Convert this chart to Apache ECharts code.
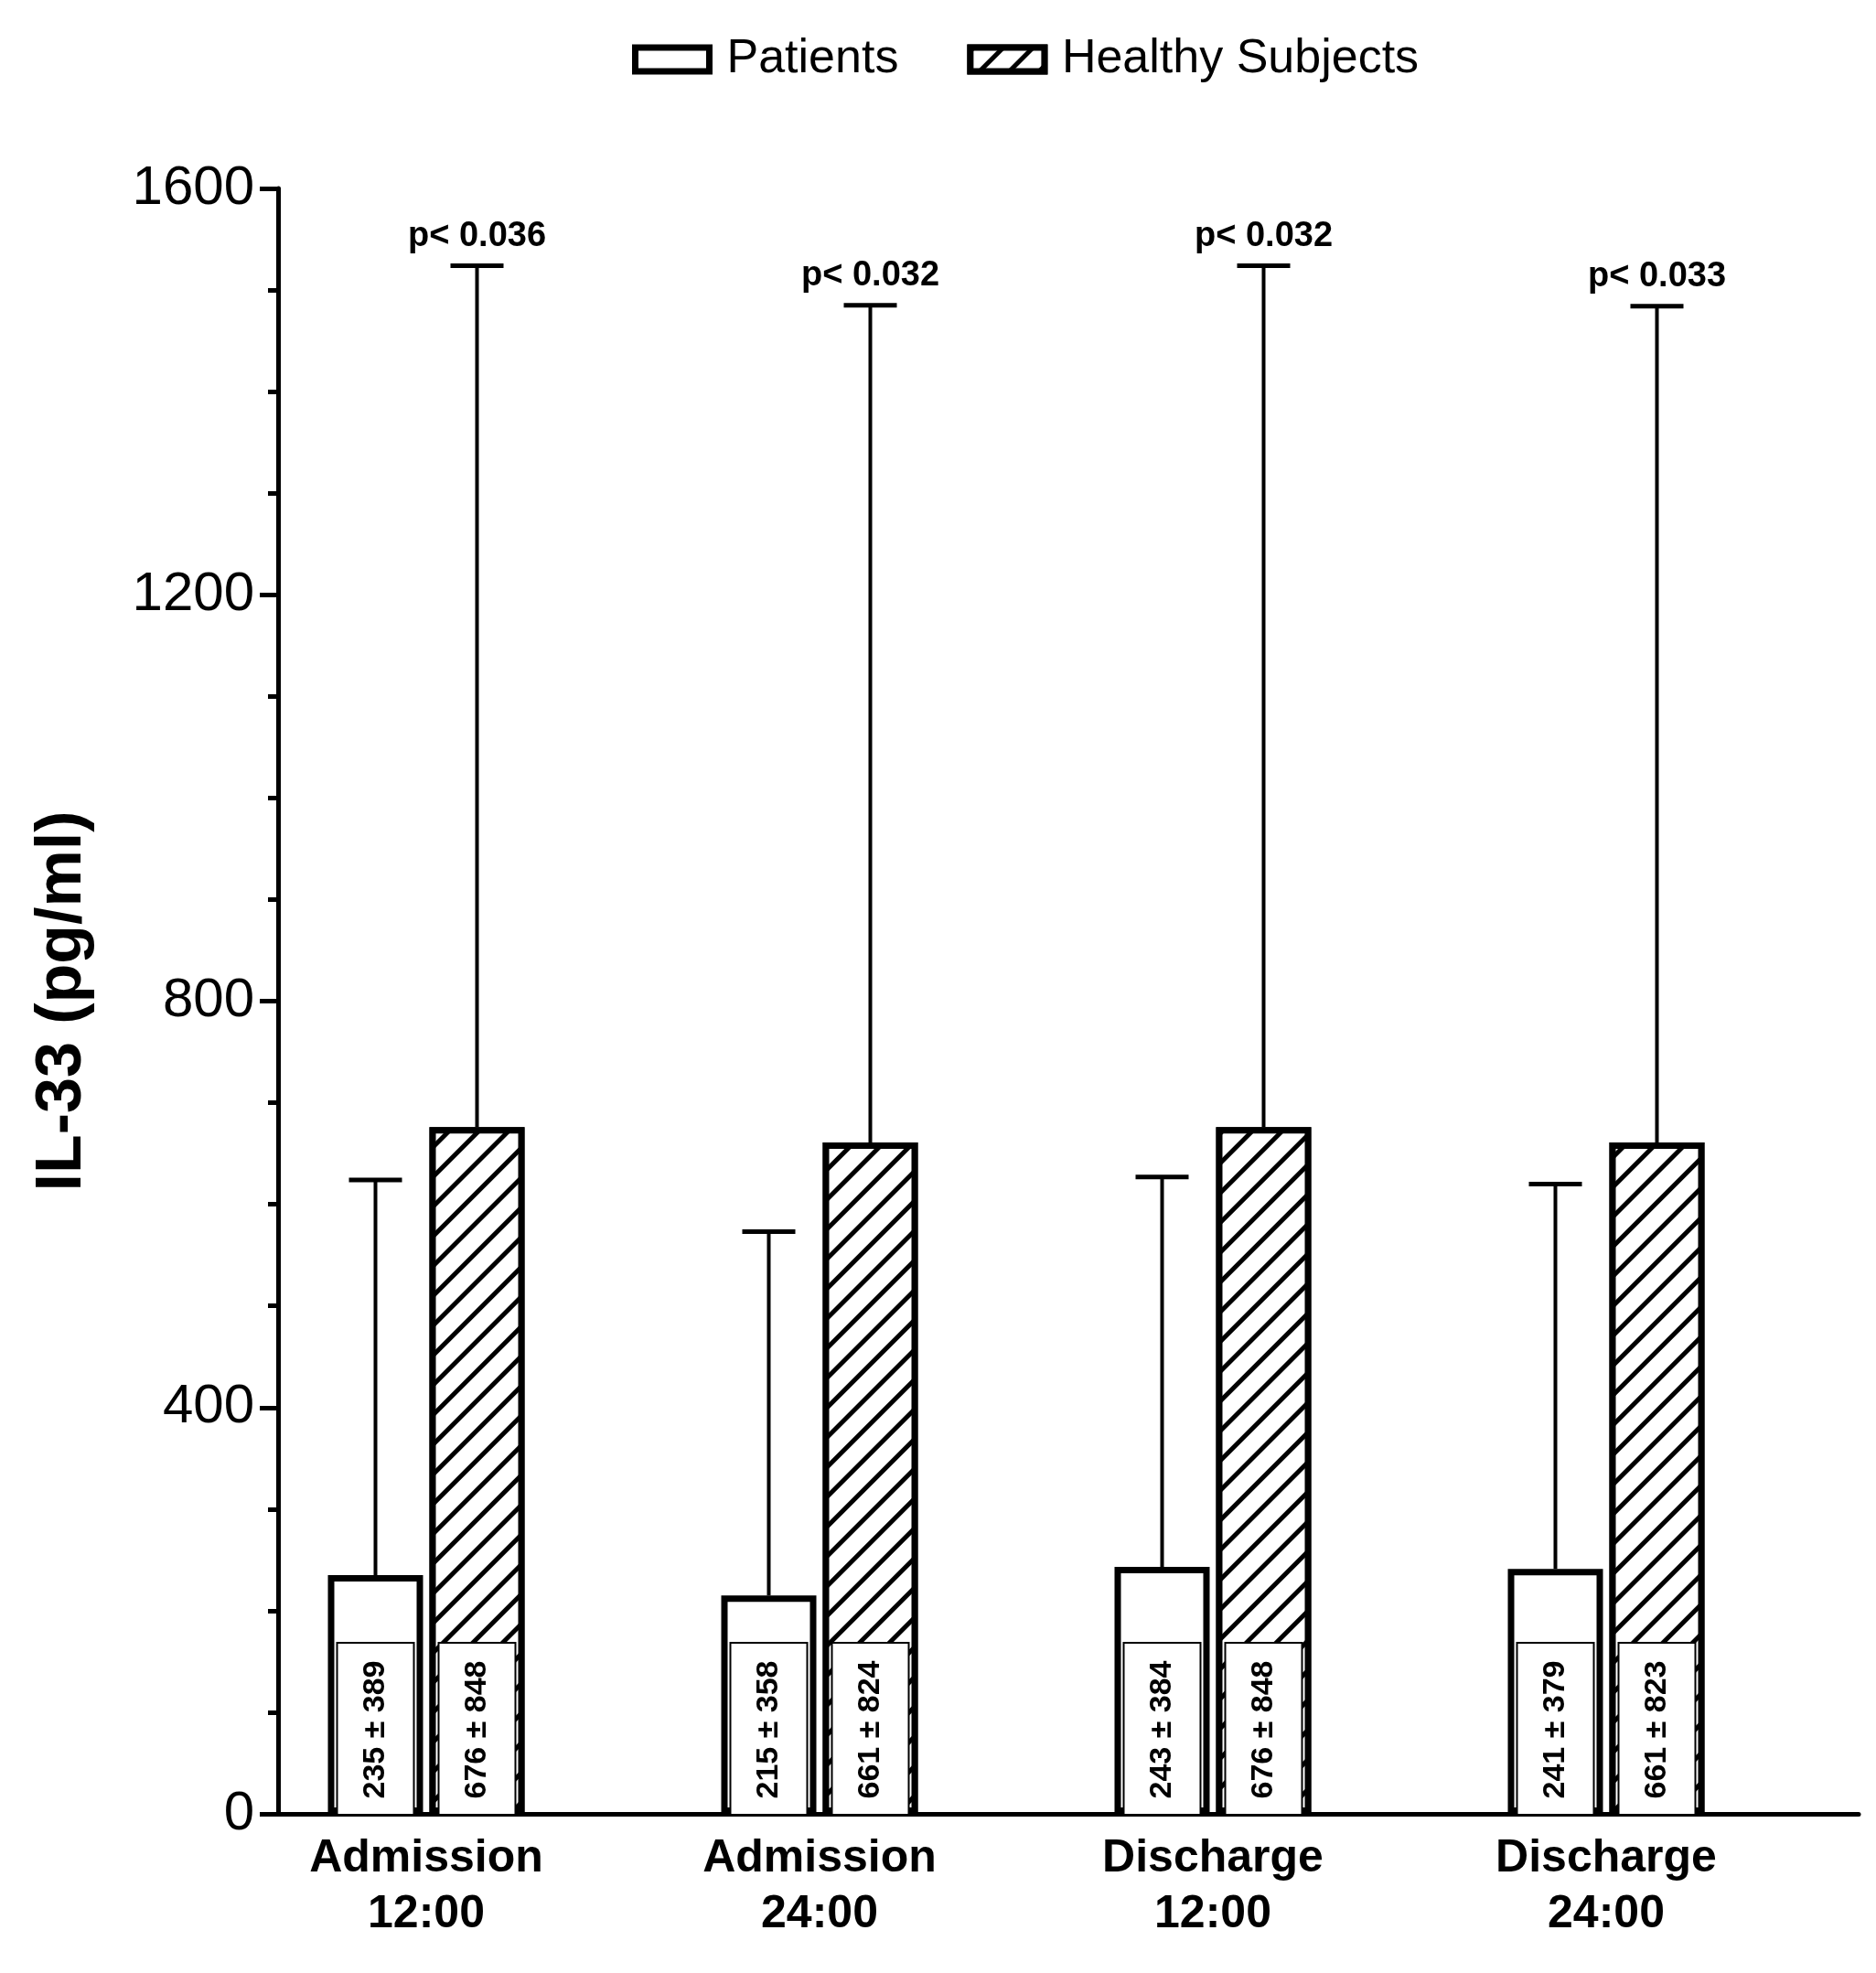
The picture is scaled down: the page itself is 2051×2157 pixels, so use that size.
<!DOCTYPE html>
<html>
<head>
<meta charset="utf-8">
<script src="https://cdn.jsdelivr.net/npm/echarts@6/dist/echarts.min.js"></script>
<style>
html, body { margin: 0; padding: 0; background: #fff; }
#chart { width: 2051px; height: 2157px; }
</style>
</head>
<body>
<div id="chart"></div>
<script>
// data
var categories = ['Admission\n12:00', 'Admission\n24:00', 'Discharge\n12:00', 'Discharge\n24:00'];
var patientsMean = [235, 215, 243, 241];
var patientsSD = [389, 358, 384, 379];
var healthyMean = [676, 661, 676, 661];
var healthySD = [848, 824, 848, 823];
var pValues = ['p< 0.036', 'p< 0.032', 'p< 0.032', 'p< 0.033'];
var yMin = 0, yMax = 1600, yStep = 400;

var FONT = '"Liberation Sans", Arial, sans-serif';
var barW = 104, barGapPx = 7;
var half = (barW + barGapPx) / 2;

function withIndex(means, sds) {
	var out = [];
	means.forEach(function(m, i) {
		out.push([i, m, sds[i]]);
	});
	return out;
}

function errorBar(offset, withP) {
	return function(params, api) {
		var cat = api.value(0), mean = api.value(1), sd = api.value(2);
		var base = api.coord([cat, mean]);
		var top = api.coord([cat, mean + sd]);
		var x = base[0] + offset;
		var kids = [
			{type: 'line', shape: {x1: x, y1: base[1], x2: x, y2: top[1]}, style: {stroke: '#000', lineWidth: 4}},
			{type: 'line', shape: {x1: x - 29, y1: top[1], x2: x + 29, y2: top[1]}, style: {stroke: '#000', lineWidth: 5}}
		];
		if (withP) {
			kids.push({
				type: 'text', x: x, y: top[1] - 32,
				style: {
					text: pValues[params.dataIndex], fill: '#000', font: 'bold 38px ' + FONT,
					textAlign: 'center', textVerticalAlign: 'middle', align: 'center', verticalAlign: 'middle'
				}
			});
		}
		return {type: 'group', children: kids};
	};
}

function valueBox(offset) {
	return function(params, api) {
		var cat = api.value(0);
		var p0 = api.coord([cat, 0]);
		var x = p0[0] + offset;
		return {type: 'group', children: [
			{type: 'rect', shape: {x: x - 42, y: p0[1] - 187, width: 84, height: 188}, style: {fill: '#fff', stroke: '#000', lineWidth: 2}},
			{
				type: 'text', x: x, y: p0[1] - 92, rotation: Math.PI / 2,
				style: {
					text: api.value(1) + ' \u00b1 ' + api.value(2), fill: '#000', font: 'bold 34px ' + FONT,
					textAlign: 'center', textVerticalAlign: 'middle', align: 'center', verticalAlign: 'middle'
				}
			}
		]};
	};
}

var chart = echarts.init(document.getElementById('chart'));
chart.setOption({
	animation: false,
	backgroundColor: '#fff',
	legend: {
		top: 34,
		left: 686,
		icon: 'rect',
		itemWidth: 81,
		itemHeight: 26,
		itemGap: 75,
		itemStyle: {borderWidth: 7, borderColor: '#000'},
		textStyle: {fontFamily: FONT, fontSize: 52, color: '#000', padding: [0, 0, 0, 14]},
		data: ['Patients', 'Healthy Subjects']
	},
	grid: [
		{left: 304, right: 19, top: 206, bottom: 174},
		{left: 251, right: 80, top: 206, bottom: 174}
	],
	xAxis: [
		{
			type: 'value', gridIndex: 0, min: 0, max: 1,
			axisLine: {show: true, lineStyle: {color: '#000', width: 5}},
			axisTick: {show: false}, axisLabel: {show: false}, splitLine: {show: false}
		},
		{
			type: 'category', gridIndex: 1, data: categories,
			axisLine: {show: false}, axisTick: {show: false},
			axisLabel: {
				color: '#000', fontFamily: FONT, fontWeight: 'bold', fontSize: 50,
				lineHeight: 61, margin: 19
			}
		}
	],
	yAxis: [
		{
			type: 'value', gridIndex: 0, min: yMin, max: yMax, interval: yStep,
			name: 'IL-33 (pg/ml)', nameLocation: 'middle', nameGap: 200, nameRotate: 90,
			nameTextStyle: {color: '#000', fontFamily: FONT, fontWeight: 'bold', fontSize: 70},
			axisLine: {show: true, lineStyle: {color: '#000', width: 5}},
			axisTick: {show: true, length: 20, lineStyle: {color: '#000', width: 5}},
			minorTick: {show: true, splitNumber: 4, length: 11, lineStyle: {color: '#000', width: 5}},
			axisLabel: {
				color: '#000', fontFamily: FONT, fontSize: 60, margin: 26,
				formatter: function(v) { return String(v); }
			},
			splitLine: {show: false}
		},
		{
			type: 'value', gridIndex: 1, min: yMin, max: yMax, interval: yStep, show: false
		}
	],
	series: [
		{
			name: 'Patients', type: 'bar', xAxisIndex: 1, yAxisIndex: 1,
			data: patientsMean, barWidth: barW, barGap: (barGapPx / barW * 100) + '%',
			itemStyle: {color: '#fff', borderColor: '#000', borderWidth: 7}
		},
		{
			name: 'Healthy Subjects', type: 'bar', xAxisIndex: 1, yAxisIndex: 1,
			data: healthyMean, barWidth: barW,
			itemStyle: {
				color: '#fff', borderColor: '#000', borderWidth: 7,
				decal: {
					symbol: 'rect', symbolSize: 1, dashArrayX: [1, 0], dashArrayY: [5, 18],
					rotation: -Math.PI / 4, color: '#000', backgroundColor: '#fff'
				}
			}
		},
		{
			type: 'custom', xAxisIndex: 1, yAxisIndex: 1, z: 3, clip: false,
			renderItem: errorBar(-half, false), data: withIndex(patientsMean, patientsSD)
		},
		{
			type: 'custom', xAxisIndex: 1, yAxisIndex: 1, z: 3, clip: false,
			renderItem: errorBar(half, true), data: withIndex(healthyMean, healthySD)
		},
		{
			type: 'custom', xAxisIndex: 1, yAxisIndex: 1, z: 4, clip: false,
			renderItem: valueBox(-half), data: withIndex(patientsMean, patientsSD)
		},
		{
			type: 'custom', xAxisIndex: 1, yAxisIndex: 1, z: 4, clip: false,
			renderItem: valueBox(half), data: withIndex(healthyMean, healthySD)
		}
	]
});
</script>
</body>
</html>
